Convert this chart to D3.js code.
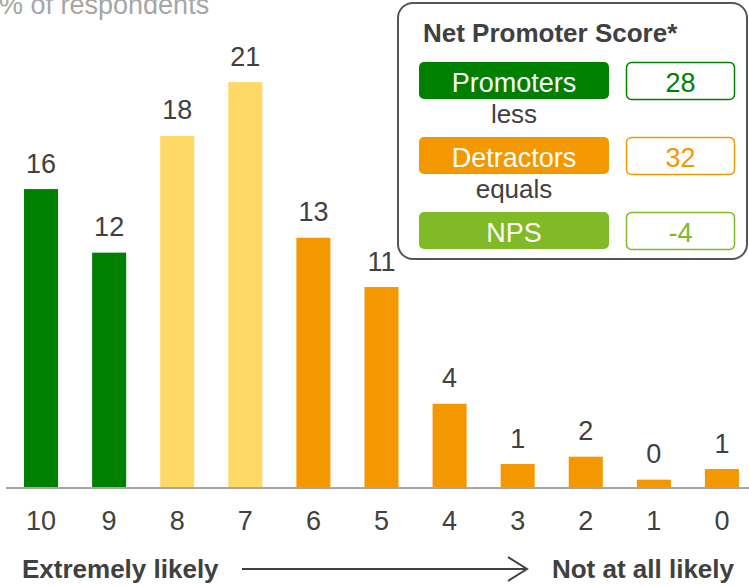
<!DOCTYPE html>
<html>
<head>
<meta charset="utf-8">
<script src="https://cdn.jsdelivr.net/npm/d3@7"></script>
<style>
  html, body { margin: 0; padding: 0; background: #fff; }
  svg { display: block; font-family: "Liberation Sans", Arial, sans-serif; }
</style>
</head>
<body>
<svg id="chart" width="749" height="586"></svg>
<script>
// ---- data ----
const scores = ["10", "9", "8", "7", "6", "5", "4", "3", "2", "1", "0"];
const shares = [15.42, 12.13, 18.17, 20.96, 12.90, 10.35, 4.31, 1.19, 1.57, 0.38, 0.93];
const shareLabels = ["16", "12", "18", "21", "13", "11", "4", "1", "2", "0", "1"];
const groups = ["Promoter", "Promoter", "Passive", "Passive", "Detractor", "Detractor", "Detractor", "Detractor", "Detractor", "Detractor", "Detractor"];
const npsRows = ["Promoters", "Detractors", "NPS"];
const npsValues = ["28", "32", "-4"];
const npsConnectors = ["less", "equals"];
const axisTitle = "% of respondents";
const leftEndLabel = "Extremely likely";
const rightEndLabel = "Not at all likely";
const boxTitle = "Net Promoter Score*";

// ---- styles ----
const groupColor = { Promoter: "#008000", Passive: "#FFD966", Detractor: "#F39800" };
const rowColor = ["#008000", "#F39800", "#80BA27"];
const textDark = "#404040";

const svg = d3.select("#chart");

const x = d3.scaleBand().domain(scores).range([7, 756]).paddingInner(0.5).paddingOuter(0.25);
const y = d3.scaleLinear().domain([0, 25]).range([487, 4]);

// subtitle
svg.append("text").attr("x", -1).attr("y", 13.5)
  .attr("font-size", 27).attr("fill", "#A6A6A6").text(axisTitle);

// bars
svg.selectAll("rect.bar").data(scores).join("rect")
  .attr("class", "bar")
  .attr("x", d => x(d))
  .attr("width", x.bandwidth())
  .attr("y", (d, i) => y(shares[i]))
  .attr("height", (d, i) => y(0) - y(shares[i]))
  .attr("fill", (d, i) => groupColor[groups[i]]);

// value labels
svg.selectAll("text.val").data(scores).join("text")
  .attr("class", "val")
  .attr("x", d => x(d) + x.bandwidth() / 2)
  .attr("y", (d, i) => y(shares[i]) - 16.5)
  .attr("text-anchor", "middle")
  .attr("font-size", 27)
  .attr("fill", textDark)
  .text((d, i) => shareLabels[i]);

// x axis
const xAxis = d3.axisBottom(x).tickSize(0).tickPadding(23);
const gx = svg.append("g").attr("transform", `translate(0,${y(0) + 1})`).call(xAxis);
gx.select(".domain").remove();
gx.append("line").attr("x1", 6).attr("x2", 749).attr("y1", 0).attr("y2", 0)
  .attr("stroke", "#A6A6A6").attr("stroke-width", 2);
gx.selectAll(".tick text")
  .attr("font-size", 27)
  .attr("font-family", "\"Liberation Sans\", Arial, sans-serif")
  .attr("fill", textDark);

// bottom labels and arrow
svg.append("text").attr("x", 22).attr("y", 578)
  .attr("font-size", 26).attr("font-weight", "bold").attr("fill", textDark).text(leftEndLabel);
svg.append("text").attr("x", 734).attr("y", 578).attr("text-anchor", "end")
  .attr("font-size", 26).attr("font-weight", "bold").attr("fill", textDark).text(rightEndLabel);
svg.append("line").attr("x1", 242).attr("x2", 526).attr("y1", 569).attr("y2", 569)
  .attr("stroke", textDark).attr("stroke-width", 2);
svg.append("path").attr("d", "M508,557 L527,569 L508,581")
  .attr("fill", "none").attr("stroke", textDark).attr("stroke-width", 2);

// NPS box
const box = svg.append("g");
box.append("rect").attr("x", 398).attr("y", 3).attr("width", 349).attr("height", 256)
  .attr("rx", 15).attr("fill", "#fff").attr("stroke", "#555").attr("stroke-width", 2);
box.append("text").attr("x", 423).attr("y", 42)
  .attr("font-size", 26).attr("font-weight", "bold").attr("fill", textDark).text(boxTitle);

const rowY = d3.scalePoint().domain(npsRows).range([62, 212]);
npsRows.forEach((r, i) => {
  const top = rowY(r);
  box.append("rect").attr("x", 419).attr("y", top).attr("width", 190).attr("height", 37)
    .attr("rx", 5).attr("fill", rowColor[i]);
  box.append("text").attr("x", 514).attr("y", top + 30)
    .attr("text-anchor", "middle").attr("font-size", 27).attr("fill", "#fff").text(r);
  box.append("rect").attr("x", 626.5).attr("y", top + 0.5).attr("width", 108).attr("height", 37)
    .attr("rx", 5).attr("fill", "#fff").attr("stroke", rowColor[i]).attr("stroke-width", 1.5);
  box.append("text").attr("x", 680.5).attr("y", top + 30)
    .attr("text-anchor", "middle").attr("font-size", 27).attr("fill", rowColor[i]).text(npsValues[i]);
  if (i < npsConnectors.length) {
    box.append("text").attr("x", 514).attr("y", top + 61)
      .attr("text-anchor", "middle").attr("font-size", 26).attr("fill", textDark).text(npsConnectors[i]);
  }
});
</script>
</body>
</html>
